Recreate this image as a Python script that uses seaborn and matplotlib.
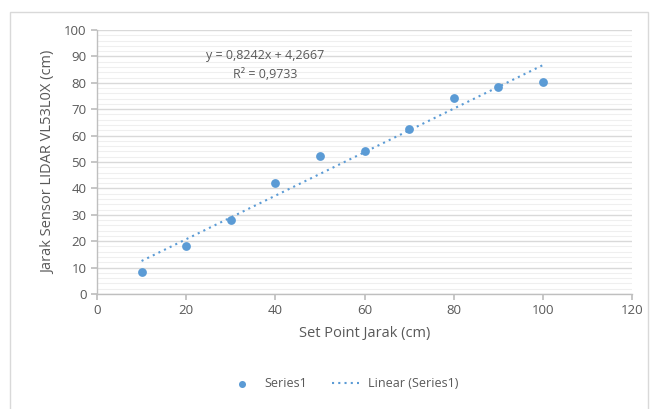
import numpy as np
import pandas as pd
import matplotlib
matplotlib.use("Agg")
import matplotlib.pyplot as plt
from matplotlib.patches import Rectangle
from matplotlib.ticker import MultipleLocator
import seaborn as sns

# data
set_point = [10, 20, 30, 40, 50, 60, 70, 80, 90, 100]
sensor = [8.3, 18.2, 28.0, 42.0, 52.2, 54.1, 62.4, 74.2, 78.3, 80.3]
x_ticks = [0, 20, 40, 60, 80, 100, 120]
y_ticks = [0, 10, 20, 30, 40, 50, 60, 70, 80, 90, 100]

sns.set_theme(style="white")
plt.rcParams["font.family"] = ["Open Sans", "DejaVu Sans"]

grey = "#595959"
blue = "#5b9bd5"

df = pd.DataFrame({"x": set_point, "y": sensor})
slope, intercept = 0.8242, 4.2667
trend = pd.DataFrame({"x": [min(set_point), max(set_point)]})
trend["y"] = slope * trend["x"] + intercept

fig = plt.figure(figsize=(6.61, 4.09), dpi=100)
fig.patches.append(Rectangle((10 / 661, -0.01), 638 / 661, 1 - 12 / 409 + 0.01,
                             transform=fig.transFigure, fill=False,
                             edgecolor="#d9d9d9", linewidth=1))
ax = fig.add_axes([97 / 661, 115 / 409, 535 / 661, 264 / 409])

sns.lineplot(data=trend, x="x", y="y", ax=ax, color=blue, linestyle=(0, (1, 2)),
             linewidth=1.5, label="Linear (Series1)", zorder=3)
sns.scatterplot(data=df, x="x", y="y", ax=ax, color=blue, s=40, edgecolor=blue,
                linewidth=0, label="Series1", zorder=4)

ax.set_xlim(0, 120)
ax.set_ylim(0, 100)
ax.set_xticks(x_ticks)
ax.set_yticks(y_ticks)
ax.yaxis.set_minor_locator(MultipleLocator(2))
ax.grid(which="major", axis="y", color="#d9d9d9", linewidth=1)
ax.grid(which="minor", axis="y", color="#efefef", linewidth=0.8)
ax.set_axisbelow(True)
for s in ["top", "right"]:
    ax.spines[s].set_visible(False)
for s in ["left", "bottom"]:
    ax.spines[s].set_color("#bfbfbf")
    ax.spines[s].set_linewidth(1)
ax.tick_params(axis="both", which="major", colors="#bfbfbf", labelcolor=grey,
               labelsize=9.5, length=4, direction="out", bottom=True, left=True)
ax.tick_params(axis="y", which="minor", left=False)

ax.set_xlabel("Set Point Jarak (cm)", color=grey, fontsize=10.5, labelpad=6)
ax.set_ylabel("Jarak Sensor LIDAR VL53L0X (cm)", color=grey, fontsize=10.5, labelpad=6)

ax.text(37.7, 90.5, "y = 0,8242x + 4,2667", ha="center", va="center",
        color=grey, fontsize=9)
ax.text(37.7, 83.2, "R² = 0,9733", ha="center", va="center",
        color=grey, fontsize=9)

handles, labels = ax.get_legend_handles_labels()
order = [labels.index("Series1"), labels.index("Linear (Series1)")]
ax.legend([handles[i] for i in order], [labels[i] for i in order],
          loc="center", bbox_to_anchor=(0.46, -0.34), ncol=2, frameon=False,
          fontsize=9, labelcolor=grey, handlelength=2.2, handletextpad=0.7,
          columnspacing=2.0, markerscale=0.8)

fig.savefig("out.png", dpi=100)
